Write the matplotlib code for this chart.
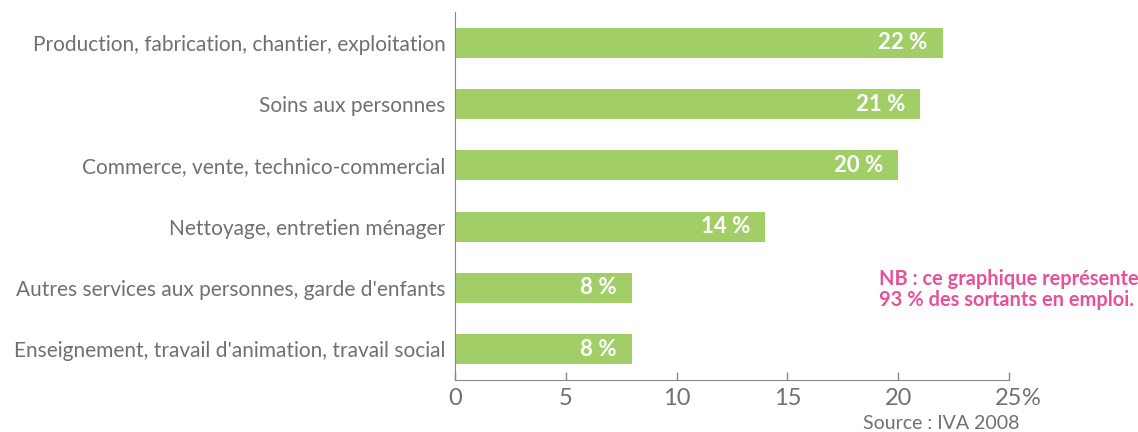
import matplotlib.pyplot as plt

# données
categories = [
    "Production, fabrication, chantier, exploitation",
    "Soins aux personnes",
    "Commerce, vente, technico-commercial",
    "Nettoyage, entretien ménager",
    "Autres services aux personnes, garde d'enfants",
    "Enseignement, travail d'animation, travail social",
]
values = [22, 21, 20, 14, 8, 8]
x_ticks = [0, 5, 10, 15, 20, 25]
x_ticklabels = ["0", "5", "10", "15", "20", "25"]

BAR_COLOR = '#a1ce66'
GREY = '#707070'
PINK = '#e8509a'

plt.rcParams['font.family'] = ['Lato', 'DejaVu Sans']

fig = plt.figure(figsize=(11.38, 4.32), dpi=100)
ax = fig.add_axes([0.4, 0.1204, 0.4866, 0.8518])

y = list(range(len(categories)))
ax.barh(y, values, height=0.49, color=BAR_COLOR)

for yi, v in zip(y, values):
    ax.annotate(f"{v} %", xy=(v, yi), xytext=(-11, 0), textcoords='offset points',
                ha='right', va='center', color='white', fontsize=16, fontweight='bold')

ax.set_ylim(5.5, -0.5)
ax.set_xlim(0, 25)
ax.set_yticks(y)
ax.set_yticklabels(categories, fontsize=15, color=GREY)
ax.set_xticks(x_ticks)
ax.set_xticklabels(x_ticklabels, fontsize=17, color=GREY)
ax.annotate("%", xy=(25, 0), xycoords=('data', 'axes fraction'), xytext=(16, -6),
            textcoords='offset points', ha='center', va='top', fontsize=17, color=GREY)

ax.tick_params(axis='y', length=0, pad=7)
ax.tick_params(axis='x', direction='in', length=6, width=1, color='#888888', pad=6)
for s in ['top', 'right']:
    ax.spines[s].set_visible(False)
ax.spines['left'].set_color('#888888')
ax.spines['bottom'].set_color('#888888')

fig.text(0.772, 0.33, "NB : ce graphique représente\n93 % des sortants en emploi.",
         color=PINK, fontsize=14.4, fontweight='bold', ha='left', va='center', linespacing=1.1)
fig.text(0.896, 0.0, "Source : IVA 2008", color=GREY, fontsize=14, ha='right', va='bottom')

fig.savefig('out.png', dpi=100)
